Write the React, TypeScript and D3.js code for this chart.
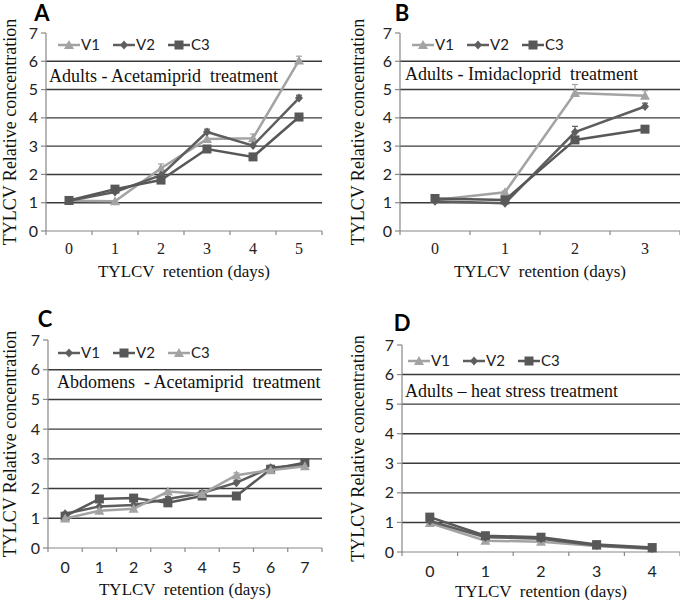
import React from "react";
import * as d3 from "d3";

// ---------- DATA ----------
const daysA = ["0", "1", "2", "3", "4", "5"];
const aV1 = [1.07, 1.05, 2.22, 3.25, 3.28, 6.03];
const aV2 = [1.07, 1.38, 1.97, 3.5, 3.02, 4.7];
const aC3 = [1.08, 1.48, 1.8, 2.9, 2.62, 4.03];
const aV1Err = [0, 0, 0.15, 0, 0.15, 0.15];
const aV2Err = [0, 0, 0, 0.1, 0, 0.1];
const aC3Err = [0, 0, 0, 0, 0, 0];

const daysB = ["0", "1", "2", "3"];
const bV1 = [1.1, 1.37, 4.88, 4.78];
const bV2 = [1.05, 0.98, 3.5, 4.4];
const bC3 = [1.15, 1.1, 3.22, 3.6];
const bV1Err = [0, 0.05, 0.3, 0.18];
const bV2Err = [0, 0, 0.2, 0.12];
const bC3Err = [0, 0, 0, 0];

const daysC = ["0", "1", "2", "3", "4", "5", "6", "7"];
const cV1 = [1.15, 1.4, 1.45, 1.65, 1.85, 2.2, 2.7, 2.8];
const cV2 = [1.07, 1.65, 1.68, 1.52, 1.75, 1.75, 2.65, 2.87];
const cC3 = [0.99, 1.25, 1.32, 1.9, 1.82, 2.45, 2.62, 2.75];
const cV1Err = [0, 0, 0, 0.08, 0.08, 0.08, 0.08, 0];
const cV2Err = [0, 0, 0, 0, 0, 0, 0, 0];
const cC3Err = [0, 0, 0, 0.05, 0, 0.08, 0, 0];

const daysD = ["0", "1", "2", "3", "4"];
const dV1 = [0.98, 0.38, 0.35, 0.2, 0.1];
const dV2 = [1.05, 0.5, 0.45, 0.22, 0.12];
const dC3 = [1.18, 0.55, 0.5, 0.25, 0.15];

const yTicks = [0, 1, 2, 3, 4, 5, 6, 7];
const gridValues = [1, 2, 3, 4, 5, 6];

// ---------- STYLE ----------
const LIGHT = "#a3a3a3";
const DARK = "#5e5e5e";
const SQ = "#585858";
const SERIF = "'Liberation Serif', 'Times New Roman', serif";
const SANS = "Lato, 'Open Sans', sans-serif";

type Shape = "tri" | "dia" | "sq";
interface Series {
  name: string;
  values: number[];
  err?: number[];
  shape: Shape;
  color: string;
}

function Marker({ shape, x, y, color }: { shape: Shape; x: number; y: number; color: string }) {
  if (shape === "sq") return <rect x={x - 4.5} y={y - 4.5} width={9} height={9} fill={color} />;
  if (shape === "dia")
    return <path d={`M${x},${y - 4.5}L${x + 4},${y}L${x},${y + 4.5}L${x - 4},${y}Z`} fill={color} />;
  return <path d={`M${x},${y - 5}L${x + 5},${y + 4}L${x - 5},${y + 4}Z`} fill={color} />;
}

interface PanelProps {
  letter: string;
  letterX: number;
  letterY: number;
  left: number;
  right: number;
  top: number;
  bottom: number;
  cats: string[];
  series: Series[];
  legendX: number;
  legendY: number;
  note: string;
  noteX: number;
  noteY: number;
  xTickFont: string;
  xTickY: number;
  xTitleY: number;
  yTitleX: number;
}

function Panel(p: PanelProps) {
  const x = d3.scaleBand<string>().domain(p.cats).range([p.left, p.right]);
  const y = d3.scaleLinear().domain([0, 7]).range([p.bottom, p.top]);
  const cx = (c: string) => (x(c) as number) + x.bandwidth() / 2;
  const line = d3
    .line<number>()
    .x((_, i) => cx(p.cats[i]))
    .y((v) => y(v));
  const boundaries = p.cats.map((c) => x(c) as number).concat([p.right]);
  return (
    <g>
      <text x={p.letterX} y={p.letterY} fontFamily={SANS} fontWeight="bold" fontSize={22} textAnchor="middle">
        {p.letter}
      </text>
      {gridValues.map((g) => (
        <line key={g} x1={p.left} x2={p.right} y1={y(g)} y2={y(g)} stroke="#3a3a3a" strokeWidth={1.4} />
      ))}
      {/* axes */}
      <line x1={p.left} x2={p.left} y1={p.top} y2={p.bottom} stroke="#888" strokeWidth={1.2} />
      <line x1={p.left} x2={p.right} y1={p.bottom} y2={p.bottom} stroke="#888" strokeWidth={1.2} />
      {yTicks.map((t) => (
        <g key={t}>
          <line x1={p.left - 5} x2={p.left} y1={y(t)} y2={y(t)} stroke="#888" strokeWidth={1.2} />
          <text x={p.left - 8} y={y(t) + 5.5} fontFamily={SANS} fontSize={16} textAnchor="end" fill="#222">
            {t}
          </text>
        </g>
      ))}
      {boundaries.map((b, i) => (
        <line key={i} x1={b} x2={b} y1={p.bottom} y2={p.bottom + 4} stroke="#888" strokeWidth={1.2} />
      ))}
      {p.cats.map((c) => (
        <text key={c} x={cx(c)} y={p.xTickY} fontFamily={p.xTickFont} fontSize={16} textAnchor="middle" fill="#222">
          {c}
        </text>
      ))}
      <text
        x={(p.left + p.right) / 2}
        y={p.xTitleY}
        fontFamily={SERIF}
        fontSize={17}
        textAnchor="middle"
        fill="#111"
        style={{ whiteSpace: "pre" }}
      >
        {"TYLCV  retention (days)"}
      </text>
      <text
        transform={`translate(${p.yTitleX},${(p.top + p.bottom) / 2}) rotate(-90)`}
        fontFamily={SERIF}
        fontSize={18}
        textAnchor="middle"
        fill="#111"
        dy="0.35em"
      >
        TYLCV Relative concentration
      </text>
      <text x={p.noteX} y={p.noteY} fontFamily={SERIF} fontSize={18} fill="#111" style={{ whiteSpace: "pre" }}>
        {p.note}
      </text>
      {/* legend */}
      {p.series.map((s, i) => {
        const lx = p.legendX + i * 55;
        return (
          <g key={s.name}>
            <line x1={lx} x2={lx + 22} y1={p.legendY} y2={p.legendY} stroke={s.color} strokeWidth={2.5} />
            <Marker shape={s.shape} x={lx + 11} y={p.legendY} color={s.color} />
            <text x={lx + 23} y={p.legendY + 5} fontFamily={SANS} fontSize={15} fill="#222">
              {s.name}
            </text>
          </g>
        );
      })}
      {/* series */}
      {p.series.map((s) => (
        <g key={s.name}>
          <path d={line(s.values) as string} fill="none" stroke={s.color} strokeWidth={2.5} />
          {s.err &&
            s.values.map((v, i) =>
              s.err![i] > 0 ? (
                <g key={i} stroke={s.color} strokeWidth={1.2}>
                  <line x1={cx(p.cats[i])} x2={cx(p.cats[i])} y1={y(v)} y2={y(v + s.err![i])} />
                  <line x1={cx(p.cats[i]) - 3} x2={cx(p.cats[i]) + 3} y1={y(v + s.err![i])} y2={y(v + s.err![i])} />
                </g>
              ) : null
            )}
          {s.values.map((v, i) => (
            <Marker key={i} shape={s.shape} x={cx(p.cats[i])} y={y(v)} color={s.color} />
          ))}
        </g>
      ))}
    </g>
  );
}

export default function App() {
  return (
    <svg width={680} height={600} style={{ position: "absolute", left: 0, top: 0, background: "#fff" }}>
      <rect width={680} height={600} fill="#fff" />
      <Panel
        letter="A" letterX={42} letterY={21}
        left={46} right={322} top={33} bottom={231}
        cats={daysA}
        series={[
          { name: "V1", values: aV1, err: aV1Err, shape: "tri", color: LIGHT },
          { name: "V2", values: aV2, err: aV2Err, shape: "dia", color: DARK },
          { name: "C3", values: aC3, err: aC3Err, shape: "sq", color: SQ },
        ]}
        legendX={58} legendY={45}
        note={"Adults - Acetamiprid  treatment"} noteX={49} noteY={82}
        xTickFont={SERIF} xTickY={254} xTitleY={277} yTitleX={10}
      />
      <Panel
        letter="B" letterX={402} letterY={21}
        left={400} right={680} top={33} bottom={231}
        cats={daysB}
        series={[
          { name: "V1", values: bV1, err: bV1Err, shape: "tri", color: LIGHT },
          { name: "V2", values: bV2, err: bV2Err, shape: "dia", color: DARK },
          { name: "C3", values: bC3, err: bC3Err, shape: "sq", color: SQ },
        ]}
        legendX={412} legendY={45}
        note={"Adults - Imidacloprid  treatment"} noteX={405} noteY={80}
        xTickFont={SERIF} xTickY={254} xTitleY={277} yTitleX={358}
      />
      <Panel
        letter="C" letterX={45} letterY={327}
        left={48} right={322} top={340} bottom={548}
        cats={daysC}
        series={[
          { name: "V1", values: cV1, err: cV1Err, shape: "dia", color: DARK },
          { name: "V2", values: cV2, err: cV2Err, shape: "sq", color: SQ },
          { name: "C3", values: cC3, err: cC3Err, shape: "tri", color: LIGHT },
        ]}
        legendX={58} legendY={353}
        note={"Abdomens  - Acetamiprid  treatment"} noteX={57} noteY={388}
        xTickFont={SANS} xTickY={573} xTitleY={595} yTitleX={10}
      />
      <Panel
        letter="D" letterX={402} letterY={331}
        left={402} right={680} top={345} bottom={552}
        cats={daysD}
        series={[
          { name: "V1", values: dV1, shape: "tri", color: LIGHT },
          { name: "V2", values: dV2, shape: "dia", color: DARK },
          { name: "C3", values: dC3, shape: "sq", color: SQ },
        ]}
        legendX={408} legendY={361}
        note={"Adults – heat stress treatment"} noteX={405} noteY={397}
        xTickFont={SANS} xTickY={577} xTitleY={597} yTitleX={358}
      />
    </svg>
  );
}
